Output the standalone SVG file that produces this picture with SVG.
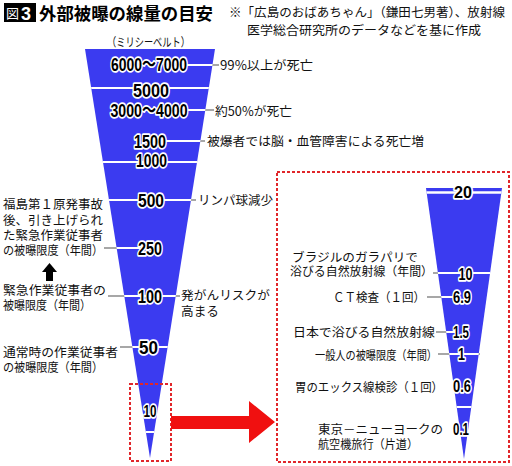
<svg xmlns="http://www.w3.org/2000/svg" width="512" height="466" viewBox="0 0 512 466">
<style>
.jp{font-family:"Noto Sans CJK JP","Noto Sans",sans-serif;font-size:12.5px;fill:#111}
.sm{font-size:12px}
.num{font-family:"Liberation Sans",Arial,"Noto Sans CJK JP",sans-serif;font-weight:bold;font-size:19px;fill:#000;stroke:#fff;stroke-width:3.5;paint-order:stroke;stroke-linejoin:round;text-anchor:middle}
.num2{font-size:17px}
.gl{stroke:#8a8a8a;stroke-width:1.5;fill:none}
.wl{stroke:#fff;stroke-width:2;fill:none}
.box{fill:none;stroke:#e0262a;stroke-width:2;stroke-dasharray:3 2}
.funnel{fill:#3b3bf0}
</style>
<defs>
<clipPath id="cL"><polygon points="85,49 215,49 150,458"/></clipPath>
<clipPath id="cR"><polygon points="426,188 502,188 464,459"/></clipPath>
</defs>

<g id="title">
<rect x="4" y="3" width="32" height="19" fill="#000"/>
<text x="6" y="18" style="font-family:'Noto Sans CJK JP',sans-serif;font-size:13px;fill:#fff">図</text>
<text x="21" y="19.5" style="font-family:'Liberation Sans',Arial,sans-serif;font-weight:bold;font-size:18px;fill:#fff">3</text>
<text x="39" y="19.5" textLength="174" lengthAdjust="spacingAndGlyphs" style="font-family:'Noto Sans CJK JP',sans-serif;font-weight:bold;font-size:17.5px;fill:#000">外部被曝の線量の目安</text>
</g>
<g id="note">
<text class="jp" x="229" y="16.5" textLength="276" lengthAdjust="spacingAndGlyphs">※「広島のおばあちゃん」（鎌田七男著）、放射線</text>
<text class="jp" x="247" y="34.5" textLength="234" lengthAdjust="spacingAndGlyphs">医学総合研究所のデータなどを基に作成</text>
</g>
<g id="unit"><text class="jp" x="107" y="46.5" textLength="83" lengthAdjust="spacingAndGlyphs" style="font-size:12px">（ミリシーベルト）</text></g>

<g id="funnel-main">
<polygon class="funnel" points="85,49 215,49 150,458"/>
</g>
<g id="funnel-zoom">
<polygon class="funnel" points="426,188 502,188 464,459"/>
</g>

<g id="connectors">
<line class="gl" x1="188" y1="65" x2="219" y2="65"/>
<line class="gl" x1="188" y1="110" x2="214" y2="110"/>
<line class="gl" x1="167" y1="141" x2="205" y2="141"/>
<line class="gl" x1="165" y1="200" x2="196" y2="200"/>
<line class="gl" x1="104" y1="248" x2="137" y2="248"/>
<line class="gl" x1="108" y1="296" x2="180" y2="296"/>
<line class="gl" x1="120" y1="347" x2="167" y2="347"/>
<line class="gl" x1="433" y1="273" x2="490" y2="273"/>
<line class="gl" x1="427" y1="297" x2="452" y2="297"/>
<line class="gl" x1="436" y1="332" x2="452" y2="332"/>
<line class="gl" x1="438" y1="354" x2="480" y2="354"/>
<g clip-path="url(#cL)">
<line class="wl" x1="80" y1="88" x2="220" y2="88"/>
<line class="wl" x1="186" y1="65" x2="220" y2="65"/>
<line class="wl" x1="186" y1="110" x2="220" y2="110"/>
<line class="wl" x1="165" y1="141" x2="220" y2="141"/>
<line class="wl" x1="80" y1="162" x2="220" y2="162"/>
<line class="wl" x1="80" y1="200" x2="220" y2="200"/>
<line class="wl" x1="80" y1="248" x2="140" y2="248"/>
<line class="wl" x1="80" y1="296" x2="220" y2="296"/>
<line class="wl" x1="80" y1="347" x2="220" y2="347"/>
<line class="wl" x1="80" y1="432" x2="220" y2="432"/>
</g>
<g clip-path="url(#cR)">
<line class="wl" x1="420" y1="192.5" x2="510" y2="192.5" style="stroke-width:2.5"/>
<line class="wl" x1="420" y1="273" x2="510" y2="273"/>
<line class="wl" x1="420" y1="297" x2="455" y2="297"/>
<line class="wl" x1="420" y1="332" x2="455" y2="332"/>
<line class="wl" x1="420" y1="354" x2="510" y2="354"/>
<line class="wl" x1="420" y1="407" x2="510" y2="407"/>
</g>
</g>

<g id="labels-main">
<text class="num" x="149" y="71" textLength="76" lengthAdjust="spacingAndGlyphs">6000～7000</text>
<text class="num" x="151" y="96.5" textLength="36" lengthAdjust="spacingAndGlyphs">5000</text>
<text class="num" x="149" y="117" textLength="77" lengthAdjust="spacingAndGlyphs">3000～4000</text>
<text class="num" x="150" y="147.5" textLength="32" lengthAdjust="spacingAndGlyphs">1500</text>
<text class="num" x="151.5" y="167" textLength="31" lengthAdjust="spacingAndGlyphs">1000</text>
<text class="num" x="151" y="207" textLength="26" lengthAdjust="spacingAndGlyphs">500</text>
<text class="num" x="150" y="254.5" textLength="24" lengthAdjust="spacingAndGlyphs">250</text>
<text class="num" x="150" y="303" textLength="24" lengthAdjust="spacingAndGlyphs">100</text>
<text class="num" x="148.5" y="354" textLength="19" lengthAdjust="spacingAndGlyphs">50</text>
<text class="num" x="150" y="416.5" textLength="13" lengthAdjust="spacingAndGlyphs" style="font-size:17px">10</text>
</g>

<g id="notes-main">
<text class="jp" x="220" y="69.5" textLength="93" lengthAdjust="spacingAndGlyphs">99%以上が死亡</text>
<text class="jp" x="215" y="115.5" textLength="77" lengthAdjust="spacingAndGlyphs">約50%が死亡</text>
<text class="jp" x="207" y="145.5" textLength="217" lengthAdjust="spacingAndGlyphs">被爆者では脳・血管障害による死亡増</text>
<text class="jp" x="198" y="204.5" textLength="75" lengthAdjust="spacingAndGlyphs">リンパ球減少</text>
<text class="jp" x="181" y="299.5" textLength="89" lengthAdjust="spacingAndGlyphs">発がんリスクが</text>
<text class="jp" x="181" y="315.5" textLength="38" lengthAdjust="spacingAndGlyphs">高まる</text>
</g>

<g id="notes-left">
<text class="jp" x="3" y="208.5" textLength="100" lengthAdjust="spacingAndGlyphs">福島第１原発事故</text>
<text class="jp" x="3" y="224.5" textLength="100" lengthAdjust="spacingAndGlyphs">後、引き上げられ</text>
<text class="jp" x="3" y="239.5" textLength="100" lengthAdjust="spacingAndGlyphs">た緊急作業従事者</text>
<text class="jp" x="3" y="254.5" textLength="100" lengthAdjust="spacingAndGlyphs">の被曝限度（年間）</text>
<text class="jp" x="3" y="294.5" textLength="103" lengthAdjust="spacingAndGlyphs">緊急作業従事者の</text>
<text class="jp" x="3" y="309.5" textLength="88" lengthAdjust="spacingAndGlyphs">被曝限度（年間）</text>
<text class="jp" x="3" y="356.5" textLength="115" lengthAdjust="spacingAndGlyphs">通常時の作業従事者</text>
<text class="jp" x="3" y="371.5" textLength="100" lengthAdjust="spacingAndGlyphs">の被曝限度（年間）</text>
</g>
<g id="up-arrow">
<polygon points="42,272 57,272 49.5,263" fill="#000"/>
<rect x="46" y="271" width="7" height="10" fill="#000"/>
</g>

<g id="zoom-link">
<rect class="box" x="130" y="384" width="41" height="77"/>
<rect class="box" x="277" y="172" width="232" height="290"/>
<polygon points="171,416 249,416 249,401 275,422 249,443 249,429 171,429" fill="#f01010"/>
</g>

<g id="labels-zoom">
<text class="num num2" x="463" y="197.5" textLength="18" lengthAdjust="spacingAndGlyphs">20</text>
<text class="num num2" x="465.5" y="280" textLength="14" lengthAdjust="spacingAndGlyphs">10</text>
<text class="num num2" x="462" y="303" textLength="18" lengthAdjust="spacingAndGlyphs">6.9</text>
<text class="num num2" x="461" y="338" textLength="16" lengthAdjust="spacingAndGlyphs">1.5</text>
<text class="num num2" x="461.5" y="359.5" textLength="7" lengthAdjust="spacingAndGlyphs">1</text>
<text class="num num2" x="462" y="392" textLength="18" lengthAdjust="spacingAndGlyphs">0.6</text>
<text class="num num2" x="461" y="435" textLength="16" lengthAdjust="spacingAndGlyphs">0.1</text>
</g>

<g id="notes-zoom">
<text class="jp sm" x="292" y="262" textLength="126" lengthAdjust="spacingAndGlyphs">ブラジルのガラパリで</text>
<text class="jp sm" x="290" y="276" textLength="143" lengthAdjust="spacingAndGlyphs">浴びる自然放射線（年間）</text>
<text class="jp" x="333" y="301.5" textLength="92" lengthAdjust="spacingAndGlyphs">ＣＴ検査（１回）</text>
<text class="jp" x="293" y="336.5" textLength="142" lengthAdjust="spacingAndGlyphs">日本で浴びる自然放射線</text>
<text class="jp" x="315" y="359.5" textLength="122" lengthAdjust="spacingAndGlyphs">一般人の被曝限度（年間）</text>
<text class="jp" x="295" y="391.5" textLength="148" lengthAdjust="spacingAndGlyphs">胃のエックス線検診（１回）</text>
<text class="jp sm" x="318" y="434" textLength="125" lengthAdjust="spacingAndGlyphs">東京－ニューヨークの</text>
<text class="jp sm" x="318" y="448.5" textLength="100" lengthAdjust="spacingAndGlyphs">航空機旅行（片道）</text>
</g>
</svg>
